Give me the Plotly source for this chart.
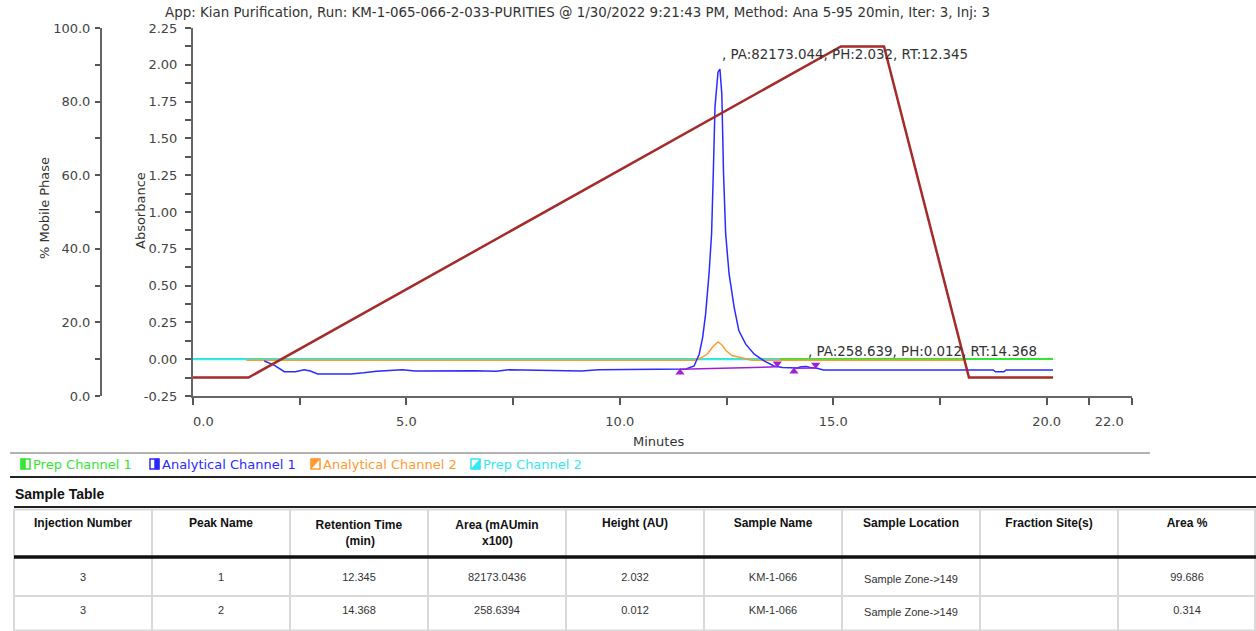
import plotly.graph_objects as go

W, H = 1256, 631

# ---------------- chromatogram data ----------------
# Analytical Channel 1 (absorbance, AU) – apex points are added from the peak table below
ac1_time = [1.67, 1.90, 2.14, 2.40, 2.60, 2.75, 2.92, 3.70, 4.00, 4.30, 4.90, 5.20, 6.60, 7.10,
            7.40, 9.00, 9.10, 9.50, 11.30, 11.55, 11.74, 11.86, 11.94, 12.01, 12.09, 12.15, 12.19,
            12.23, 12.30, 12.39, 12.43, 12.48, 12.56, 12.68, 12.79, 12.95, 13.15, 13.38, 13.61,
            13.81, 13.92, 14.15, 14.25, 14.46, 14.62, 14.77, 18.75, 18.80, 19.00, 19.05, 20.15]
ac1_abs = [-0.012, -0.040, -0.085, -0.085, -0.072, -0.080, -0.100, -0.100, -0.092, -0.082, -0.072,
           -0.080, -0.078, -0.082, -0.072, -0.075, -0.080, -0.072, -0.070, -0.067, -0.046, 0.034,
           0.147, 0.306, 0.579, 0.851, 1.260, 1.714, 1.950, 1.800, 1.260, 0.851, 0.579, 0.351,
           0.193, 0.102, 0.034, -0.012, -0.046, -0.057, -0.057, -0.060, -0.052, -0.057, -0.062,
           -0.073, -0.073, -0.085, -0.085, -0.073, -0.073]

# Analytical Channel 2
ac2_time = [1.25, 11.75, 11.90, 12.05, 12.18, 12.30, 12.40, 12.50, 12.63, 12.85, 13.10, 18.05]
ac2_abs = [-0.007, -0.007, 0.008, 0.035, 0.085, 0.117, 0.095, 0.055, 0.025, 0.008, -0.007, -0.007]

# Prep channels
pc1_time = [0.0, 20.15]
pc1_abs = [0.002, 0.002]
pc2_time = [0.0, 13.75]
pc2_abs = [0.0, 0.0]

# Mobile phase gradient (% B)
grad_time = [0.0, 1.30, 15.18, 16.19, 18.18, 20.15]
grad_pct = [5.0, 5.0, 95.0, 95.0, 5.0, 5.0]

# ---------------- peak table ----------------
inj_number = ["3", "3"]
peak_name = ["1", "2"]
peak_rt = [12.345, 14.368]
peak_area = [82173.0436, 258.6394]
peak_height = [2.032, 0.012]
sample_name = ["KM-1-066", "KM-1-066"]
sample_loc = ["Sample Zone->149", "Sample Zone->149"]
fraction_site = ["", ""]
area_pct = [99.686, 0.314]
# integration baselines (start / end time and level)
base_t0 = [11.41, 14.08]
base_t1 = [13.69, 14.59]
base_a0 = [-0.068, -0.062]
base_a1 = [-0.052, -0.060]

# ---------------- axes ----------------
NB = "\u00a0"
x_ticks = [0, 5, 10, 15, 20, 22]
# end labels are nudged inward, away from the axis ends
x_labels = [NB * 5 + "0.0", "5.0", "10.0", "15.0", "20.0", "22.0" + NB * 11]
x_minor = [2.5, 7.5, 12.5, 17.5, 21]
abs_ticks = [-0.25, 0.0, 0.25, 0.5, 0.75, 1.0, 1.25, 1.5, 1.75, 2.0, 2.25]
abs_labels = ["-0.25", "0.00", "0.25", "0.50", "0.75", "1.00", "1.25", "1.50", "1.75", "2.00", "2.25"]
pct_ticks = [0, 20, 40, 60, 80, 100]
pct_labels = ["0.0", "20.0", "40.0", "60.0", "80.0", "100.0"]

series_names = ["Prep Channel 1", "Analytical Channel 1", "Analytical Channel 2", "Prep Channel 2"]
series_colors = ["#33e633", "#2b2bff", "#ff9a2e", "#33e8f0"]
grad_color = "#a52a2a"
base_color = "#a020d8"

table_headers = ["Injection Number", "Peak Name", "Retention Time<br>" + NB * 9 + "(min)",
                 "Area (mAUmin<br>" + NB * 8 + "x100)", "Height (AU)", "Sample Name",
                 "Sample Location", "Fraction Site(s)", "Area %"]


def base_at(i, t):
    return base_a0[i] + (base_a1[i] - base_a0[i]) * (t - base_t0[i]) / (base_t1[i] - base_t0[i])


# peak apexes: baseline level at RT plus peak height
apex_abs = [base_at(i, rt) + ph for i, (rt, ph) in enumerate(zip(peak_rt, peak_height))]
pts = sorted(list(zip(ac1_time, ac1_abs)) + list(zip(peak_rt, apex_abs)))
blue_t = [p[0] for p in pts]
blue_a = [p[1] for p in pts]

DEJA = "DejaVu Sans"
TXT = "#333333"

fig = go.Figure()
fig.add_trace(go.Scatter(x=pc1_time, y=pc1_abs, mode="lines", line=dict(color=series_colors[0], width=2)))
fig.add_trace(go.Scatter(x=pc2_time, y=pc2_abs, mode="lines", line=dict(color=series_colors[3], width=2)))
fig.add_trace(go.Scatter(x=ac2_time, y=ac2_abs, mode="lines", line=dict(color=series_colors[2], width=1.5)))
fig.add_trace(go.Scatter(x=blue_t, y=blue_a, mode="lines", line=dict(color=series_colors[1], width=1.5)))

# integration baselines with start/end markers
bx, by = [], []
for i in range(len(peak_rt)):
    bx += [base_t0[i], base_t1[i], None]
    by += [base_a0[i], base_a1[i], None]
fig.add_trace(go.Scatter(x=bx, y=by, mode="lines", line=dict(color=base_color, width=1.5)))
off = 0.022
fig.add_trace(go.Scatter(x=base_t0, y=[a - off for a in base_a0], mode="markers",
                         marker=dict(symbol="triangle-up", size=8, color=base_color)))
fig.add_trace(go.Scatter(x=base_t1, y=[a + off for a in base_a1], mode="markers",
                         marker=dict(symbol="triangle-down", size=8, color=base_color)))

# gradient on the % mobile phase axis
fig.add_trace(go.Scatter(x=grad_time, y=grad_pct, mode="lines", yaxis="y2",
                         line=dict(color=grad_color, width=2.5)))

# peak table (grid rules are drawn as layout shapes below)
cell_vals = [inj_number, peak_name, [f"{v:.3f}" for v in peak_rt], [f"{v:.4f}" for v in peak_area],
             [f"{v:.3f}" for v in peak_height], sample_name, sample_loc, fraction_site,
             [f"{v:.3f}" for v in area_pct]]
TABLE_X0, TABLE_TOP, COL_W = 14, 510, 138
HEAD_H, ROW_H = 54.5, 33
fig.add_trace(go.Table(
    domain=dict(x=[TABLE_X0 / W, 1.0], y=[0.0, 1 - TABLE_TOP / H]),
    columnwidth=[1] * len(table_headers),
    header=dict(values=table_headers, height=HEAD_H, align="center", fill_color="white",
                line=dict(color="white", width=1),
                font=dict(family="Liberation Sans", size=12, color="#111111", weight="bold")),
    cells=dict(values=cell_vals, height=ROW_H, align="center", fill_color="white",
               line=dict(color="white", width=1),
               font=dict(family="Liberation Sans", size=11, color=TXT)),
))

y_dom = [1 - 396 / H, 1 - 28 / H]
axis_font = dict(family=DEJA, size=13, color="#444444")
fig.update_layout(
    width=W, height=H, autosize=False,
    margin=dict(l=0, r=0, t=0, b=0, autoexpand=False),
    paper_bgcolor="white", plot_bgcolor="white",
    showlegend=False,
    xaxis=dict(domain=[193 / W, 1132 / W], range=[0, 22], anchor="y",
               showgrid=False, zeroline=False, showline=True, linecolor="#666666", linewidth=2,
               tickmode="array", tickvals=x_ticks, ticktext=x_labels, ticks="outside",
               ticklen=7, tickwidth=1.5, tickcolor="#555555", tickfont=axis_font,
               ticklabelstandoff=5,
               minor=dict(tickmode="array", tickvals=x_minor, ticks="outside", ticklen=7,
                          tickwidth=1.5, tickcolor="#555555")),
    yaxis=dict(domain=y_dom, range=[-0.25, 2.25], anchor="x",
               showgrid=False, zeroline=False, showline=True, linecolor="#666666", linewidth=2,
               tickmode="array", tickvals=abs_ticks, ticktext=abs_labels, ticks="outside",
               ticklen=6, tickwidth=1.5, tickcolor="#555555", tickfont=axis_font,
               ticklabelstandoff=5,
               minor=dict(tickmode="array", tickvals=[v + 0.125 for v in abs_ticks[:-1]],
                          ticks="outside", ticklen=6, tickwidth=1.5, tickcolor="#555555")),
    yaxis2=dict(overlaying="y", anchor="free", position=101 / W, side="left",
                range=[0, 100], showgrid=False, zeroline=False, showline=True,
                linecolor="#666666", linewidth=2,
                tickmode="array", tickvals=pct_ticks, ticktext=pct_labels, ticks="outside",
                ticklen=5, tickwidth=1.5, tickcolor="#555555", tickfont=axis_font,
                ticklabelstandoff=2,
                minor=dict(tickmode="array", tickvals=[v + 10 for v in pct_ticks[:-1]],
                           ticks="outside", ticklen=5, tickwidth=1.5, tickcolor="#555555")),
)


def label(text, x, y, size=13, color=TXT, angle=0, xanchor="center", family=DEJA):
    return dict(text=text, x=x / W, y=1 - y / H, xref="paper", yref="paper", showarrow=False,
                xanchor=xanchor, yanchor="middle", textangle=angle,
                font=dict(family=family, size=size, color=color))


ann = []
ann.append(label("App: Kian Purification, Run: KM-1-065-066-2-033-PURITIES @ 1/30/2022 9:21:43 PM, "
                 "Method: Ana 5-95 20min, Iter: 3, Inj: 3", 577, 13, size=13.4))
ann.append(label("% Mobile Phase", 45, 208, angle=-90))
ann.append(label("Absorbance", 140, 211, angle=-90))
ann.append(label("Minutes", 658, 441))
for i in range(len(peak_rt)):
    ann.append(dict(text=f", PA:{peak_area[i]:.3f}, PH:{peak_height[i]:.3f}, RT:{peak_rt[i]:.3f}",
                    x=peak_rt[i], y=apex_abs[i], xref="x", yref="y", showarrow=False,
                    xanchor="left", yanchor="middle", yshift=15,
                    font=dict(family=DEJA, size=13.4, color=TXT)))

# legend strip
icon_x = [21, 150, 311, 471]
shapes = []
for name, col, ix, k in zip(series_names, series_colors, icon_x, range(4)):
    x0, x1 = ix / W, (ix + 9) / W
    y0, y1 = 1 - 469 / H, 1 - 459 / H
    shapes.append(dict(type="rect", xref="paper", yref="paper", x0=x0, x1=x1, y0=y0, y1=y1,
                       line=dict(color=col, width=1.5), fillcolor="white"))
    xm = (ix + 4.5) / W
    if k == 0:
        path = f"M{x0},{y0} L{xm},{y0} L{xm},{y1} L{x0},{y1} Z"
    elif k == 1:
        path = f"M{xm},{y0} L{x1},{y0} L{x1},{y1} L{xm},{y1} Z"
    elif k == 2:
        path = f"M{x0},{y0} L{x1},{y1} L{x0},{y1} Z"
    else:
        path = f"M{x0},{y0} L{x1},{y0} L{x1},{y1} Z"
    shapes.append(dict(type="path", xref="paper", yref="paper", path=path,
                       fillcolor=col, line=dict(color=col, width=0.5)))
    ann.append(label(name, ix + 10, 464, color=col, xanchor="left"))

ann.append(label("<b>Sample Table</b>", 13, 494, size=14, color="#111111", xanchor="left",
                 family="Liberation Sans"))


def hline(y, x0, x1, color, width):
    return dict(type="line", xref="paper", yref="paper", x0=x0 / W, x1=x1 / W,
                y0=1 - y / H, y1=1 - y / H, line=dict(color=color, width=width))


def vline(x, y0, y1, color, width):
    return dict(type="line", xref="paper", yref="paper", x0=x / W, x1=x / W,
                y0=1 - y0 / H, y1=1 - y1 / H, line=dict(color=color, width=width))


GRID = "#d9d9d9"
# separator rules
shapes.append(hline(453, 10, 1150, "#9a9a9a", 1.5))
shapes.append(hline(477, 10, W, "#222222", 2))
shapes.append(hline(507, TABLE_X0, W, "#222222", 2))
# table grid
shapes.append(hline(509.5, TABLE_X0, W, GRID, 2))
for k in range(len(table_headers) + 1):
    xk = min(TABLE_X0 + k * COL_W, W - 1)
    shapes.append(vline(xk, 509, H, GRID, 2))
shapes.append(hline(596, TABLE_X0, W, GRID, 2))
shapes.append(hline(630.5, TABLE_X0, W, GRID, 2))
shapes.append(hline(557, TABLE_X0, W, "#111111", 3.5))

fig.update_layout(annotations=ann, shapes=shapes)
fig.write_html("out.html")
